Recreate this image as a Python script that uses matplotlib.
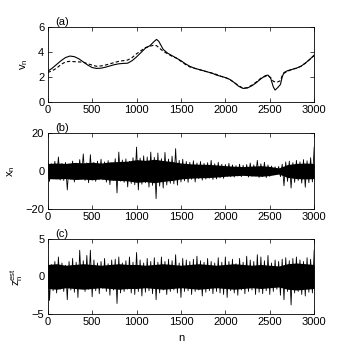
import numpy as np
import matplotlib
matplotlib.use("Agg")
import matplotlib.pyplot as plt

plt.rcParams["font.family"] = ["Liberation Sans", "DejaVu Sans"]

# panel (a): velocity estimate, solid = true, dashed = estimate
n_a = [0, 50, 100, 150, 200, 250, 300, 350, 400, 450, 500, 550, 600, 650, 700,
       750, 800, 850, 900, 950, 1000, 1050, 1100, 1150, 1200, 1225, 1250, 1300,
       1350, 1400, 1450, 1500, 1550, 1600, 1650, 1700, 1750, 1800, 1850, 1900,
       1950, 2000, 2050, 2100, 2150, 2200, 2250, 2300, 2350, 2400, 2450, 2480,
       2510, 2540, 2560, 2590, 2620, 2640, 2660, 2700, 2750, 2800, 2850, 2900,
       2950, 3000]
v_true = [2.45, 2.7, 3.0, 3.3, 3.55, 3.67, 3.62, 3.45, 3.2, 2.95, 2.75, 2.68,
          2.7, 2.78, 2.88, 2.98, 3.05, 3.08, 3.1, 3.3, 3.6, 3.95, 4.3, 4.5,
          4.85, 5.0, 4.85, 4.2, 3.9, 3.7, 3.5, 3.3, 3.05, 2.85, 2.7, 2.6, 2.5,
          2.4, 2.3, 2.15, 2.05, 1.95, 1.8, 1.55, 1.25, 1.08, 1.12, 1.3, 1.55,
          1.85, 2.1, 2.15, 1.9, 1.2, 0.95, 1.15, 1.4, 2.0, 2.35, 2.5, 2.6, 2.7,
          2.85, 3.1, 3.4, 3.75]
v_est = [2.35, 2.5, 2.7, 3.0, 3.2, 3.25, 3.22, 3.2, 3.18, 3.05, 2.95, 2.85,
         2.88, 2.95, 3.05, 3.15, 3.25, 3.3, 3.35, 3.55, 3.85, 4.1, 4.35, 4.45,
         4.55, 4.5, 4.35, 4.05, 3.85, 3.65, 3.5, 3.25, 3.0, 2.8, 2.7, 2.6, 2.5,
         2.4, 2.3, 2.2, 2.05, 1.95, 1.8, 1.55, 1.3, 1.1, 1.15, 1.35, 1.6, 1.9,
         2.05, 2.1, 1.95, 1.65, 1.6, 1.6, 1.7, 2.1, 2.3, 2.45, 2.6, 2.7, 2.85,
         3.1, 3.4, 3.7]

# panels (b) and (c): dense core of the noise, half-width every 100 samples
n_core = np.arange(0, 3001, 100)
x_core = [4.0, 4.2, 4.0, 4.5, 4.3, 4.6, 4.2, 4.8, 5.0, 5.2, 6.0, 5.6, 6.2,
          5.5, 5.0, 4.2, 3.8, 3.6, 3.5, 3.2, 2.8, 2.5, 2.3, 2.6, 2.8, 2.4,
          1.6, 3.4, 4.0, 4.2, 4.0]
z_core = [1.6, 1.7, 1.5, 1.6, 1.7, 1.6, 1.5, 1.6, 1.7, 1.6, 1.6, 1.5, 1.6,
          1.7, 1.6, 1.5, 1.6, 1.7, 1.6, 1.5, 1.6, 1.7, 1.6, 1.5, 1.6, 1.5,
          1.4, 1.7, 1.8, 1.7, 1.6]

# spikes read as alternating peaks, one every 20 samples
step_bc = 20
x_peaks = [
    6.0, -5.5, 3.8, -4.2, 5.1, -3.6, 7.4, -4.8, 4.0, -5.0,
    4.5, -10.0, 3.6, -4.4, 5.2, -5.8, 4.1, -4.6, 6.0, -3.9,
    9.0, -5.0, 4.3, -6.2, 8.6, -4.8, 4.6, -5.5, 5.2, -4.3,
    6.2, -4.6, 4.8, -5.9, 5.5, -7.2, 4.2, -5.0, 6.5, -11.6,
    10.0, -5.4, 5.8, -6.0, 6.4, -8.4, 5.1, -6.6, 7.0, -7.3,
    12.6, -10.0, 6.8, -7.0, 8.0, -6.2, 7.4, -8.5, 10.0, -7.6,
    7.2, -14.6, 9.5, -8.0, 6.5, -9.0, 9.8, -7.4, 6.3, -6.5,
    7.8, -6.8, 11.8, -7.5, 5.6, -5.8, 6.2, -5.2, 5.0, -6.0,
    4.6, -4.4, 5.4, -5.8, 4.2, -4.0, 5.0, -4.8, 4.0, -4.3,
    4.4, -3.8, 5.6, -4.5, 3.8, -4.2, 4.6, -3.6, 3.5, -3.9,
    3.4, -2.8, 4.0, -3.0, 3.2, -3.2, 2.8, -2.6, 3.6, -3.0,
    3.0, -2.4, 3.4, -3.2, 4.2, -2.8, 3.2, -2.6, 5.6, -3.4,
    3.8, -3.0, 4.6, -3.5, 3.2, -2.8, 2.6, -2.0, 2.2, -1.8,
    2.4, -3.0, 3.6, -7.8, 4.8, -5.5, 5.2, -9.0, 4.4, -6.0,
    5.6, -5.0, 4.8, -6.4, 6.0, -8.6, 5.4, -6.2, 7.0, -5.8,
    12.6,
]
z_peaks = [
    2.4, -3.2, 1.6, -1.9, 2.0, -2.2, 2.6, -1.7, 1.8, -2.0,
    1.5, -3.1, 2.0, -1.8, 2.4, -2.1, 1.9, -2.8, 3.5, -1.6,
    2.1, -2.0, 2.8, -1.7, 3.5, -2.7, 2.2, -1.9, 1.8, -2.3,
    2.0, -1.6, 2.4, -2.0, 1.7, -2.5, 2.2, -1.8, 2.3, -3.6,
    2.6, -2.2, 1.8, -2.0, 2.1, -1.7, 2.6, -2.2, 1.9, -2.4,
    3.2, -2.0, 2.2, -2.6, 1.8, -2.1, 2.4, -1.9, 2.0, -2.3,
    2.5, -3.1, 1.9, -2.2, 2.6, -1.8, 2.0, -2.4, 2.3, -2.0,
    2.1, -1.8, 2.9, -2.2, 1.8, -2.8, 2.4, -2.0, 2.2, -1.9,
    2.0, -2.4, 2.3, -2.0, 2.7, -1.8, 2.1, -2.6, 1.9, -2.1,
    2.4, -1.9, 2.0, -2.3, 1.8, -2.0, 2.5, -2.2, 1.9, -2.4,
    2.6, -2.8, 2.0, -1.9, 2.3, -2.2, 1.7, -2.5, 2.4, -1.8,
    1.9, -2.3, 2.7, -2.0, 2.2, -1.8, 2.0, -2.4, 2.9, -2.1,
    2.6, -2.3, 2.1, -1.9, 2.8, -2.4, 1.8, -2.0, 2.2, -1.7,
    2.0, -2.5, 2.3, -3.1, 2.5, -2.0, 2.1, -3.8, 2.4, -2.2,
    2.6, -2.0, 2.2, -2.4, 2.0, -2.6, 2.5, -2.1, 2.3, -2.2,
    3.5,
]

xticks = [0, 500, 1000, 1500, 2000, 2500, 3000]
FS = 8

fig = plt.figure(figsize=(3.46, 3.54), dpi=100)
W = 0.770
L = 0.138
ax_a = fig.add_axes([L, 0.712, W, 0.212])
ax_b = fig.add_axes([L, 0.410, W, 0.214])
ax_c = fig.add_axes([L, 0.113, W, 0.212])

ax_a.plot(n_a, v_true, "-", color="black", lw=0.8)
ax_a.plot(n_a, v_est, "--", color="black", lw=0.8, dashes=(3, 2))
ax_a.set_ylim(0, 6)
ax_a.set_yticks([0, 2, 4, 6])
ax_a.set_ylabel("v$_\\mathregular{n}$", labelpad=6)

n_bc = np.arange(len(x_peaks)) * step_bc
xc = np.array(x_core)
ax_b.fill_between(n_core, -xc, xc, color="black", lw=0)
ax_b.plot(n_bc, x_peaks, color="black", lw=0.6)
ax_b.set_ylim(-20, 20)
ax_b.set_yticks([-20, 0, 20])
ax_b.set_ylabel("x$_\\mathregular{n}$", labelpad=6)

zc = np.array(z_core)
ax_c.fill_between(n_core, -zc, zc, color="black", lw=0)
ax_c.plot(n_bc, z_peaks, color="black", lw=0.6)
ax_c.set_ylim(-5, 5)
ax_c.set_yticks([-5, 0, 5])
ax_c.set_ylabel("z$_\\mathregular{n}^\\mathregular{est}$", labelpad=5)
ax_c.set_xlabel("n", fontsize=FS)

for ax, tag in zip([ax_a, ax_b, ax_c], ["(a)", "(b)", "(c)"]):
    ax.set_xlim(0, 3000)
    ax.set_xticks(xticks)
    ax.tick_params(direction="in", top=True, right=True, length=3,
                   width=0.5, labelsize=FS, pad=2.5)
    for s in ax.spines.values():
        s.set_linewidth(0.6)
    ax.text(0.03, 1.0, tag, transform=ax.transAxes, ha="left", va="bottom",
            fontsize=FS)
    ax.yaxis.label.set_size(FS)

fig.savefig("out.png", dpi=100)
